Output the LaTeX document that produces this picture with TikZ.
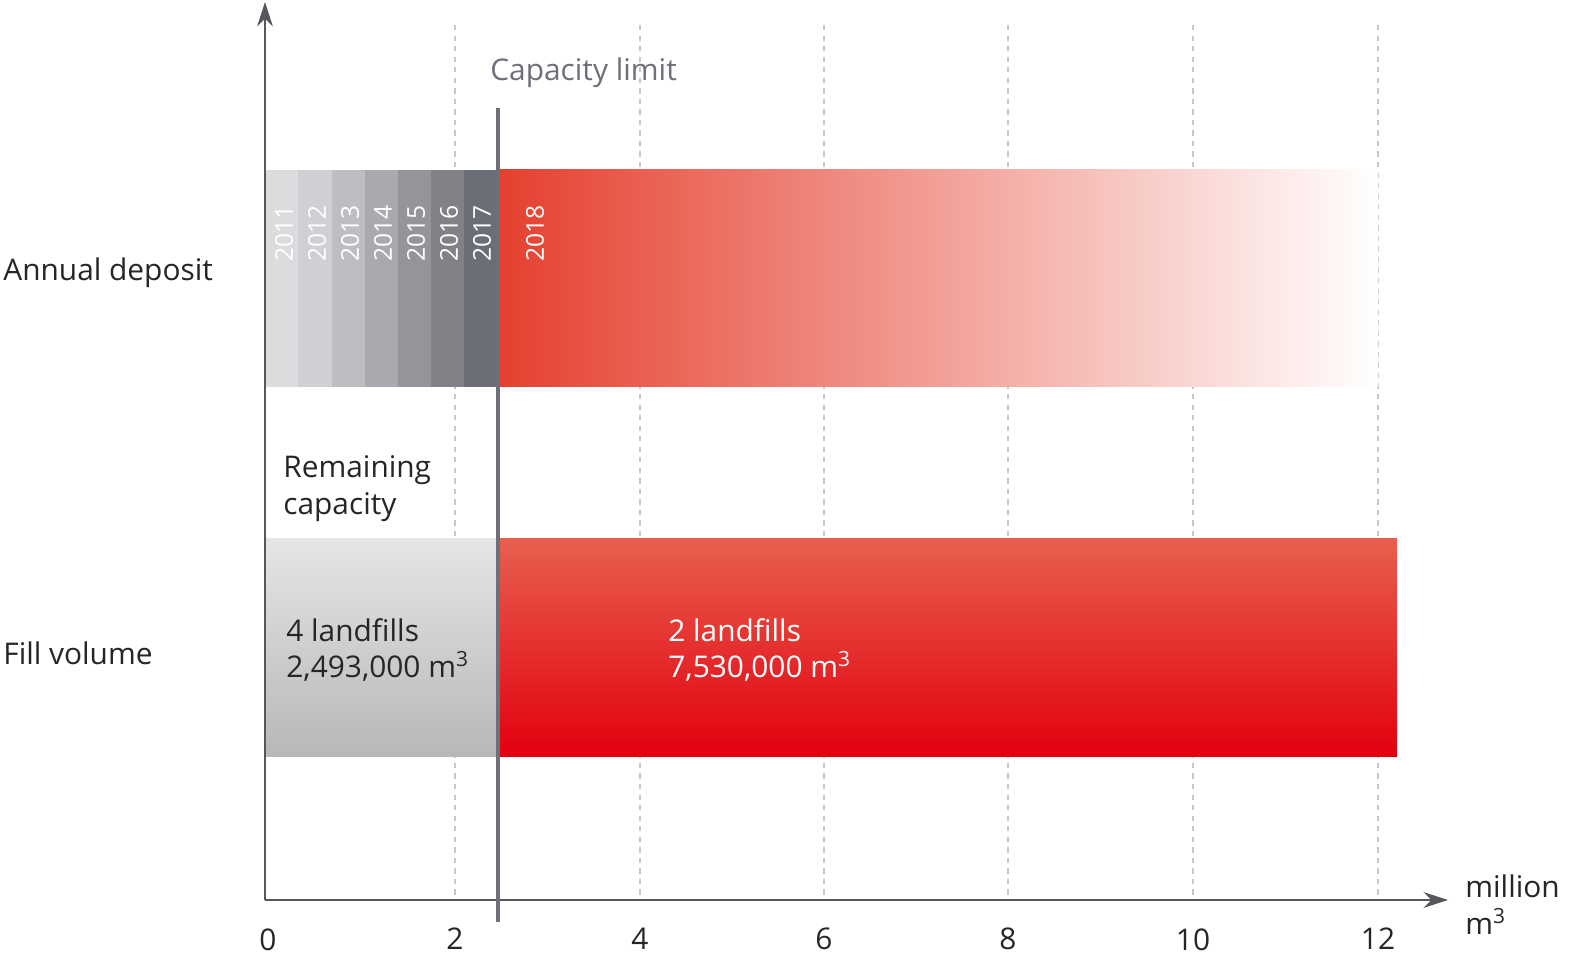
\documentclass[tikz,border=0pt]{standalone}
\usepackage{fontspec}
\setmainfont{Open Sans}
\usetikzlibrary{arrows.meta}
\definecolor{axisgray}{HTML}{55575C}
\definecolor{gridgray}{HTML}{C8C8CA}
\definecolor{limgray}{HTML}{6E7079}
\definecolor{myred}{HTML}{E2000F}
\definecolor{lightred}{HTML}{E8604F}
\definecolor{startred}{HTML}{E5402F}
\tikzset{
  lbl/.style={font=\fontsize{17}{21}\selectfont, text=black!85, inner sep=0pt},
  yearlbl/.style={font=\fontsize{14}{16}\selectfont, text=white, rotate=90, inner sep=0pt},
  grid/.style={gridgray, dashed, thick},
  axis/.style={axisgray, thick, -{Stealth[length=14pt,width=9pt]}}
}
\begin{document}
\begin{tikzpicture}[x=0.02cm,y=-0.02cm]
\useasboundingbox (0,0) rectangle (1596,976);

% grid lines
\foreach \gx in {455,640,824,1008,1193,1378}
  \draw[grid] (\gx,25) -- (\gx,900);

% annual deposit bar
\foreach \xa/\xb/\gcol in {265/298/DCDCDF,298/332/CFD0D3,332/365/BDBEC2,365/398/A9AAAF,398/431/94959B,431/464/808288,464/498/6B6E76}{
  \definecolor{segcol}{HTML}{\gcol}
  \fill[segcol] (\xa,170) rectangle (\xb,387);
}
\shade[left color=startred, middle color=lightred!65!white, right color=white] (498,170) rectangle (1378,387);
\foreach \yr [count=\i from 0] in {2011,...,2017}
  \node[yearlbl, anchor=west] (y\yr) at (284+\i*33,262) {\yr};
\node[yearlbl, anchor=west] (y2018) at (535,262) {2018};

% fill volume bar
\shade[top color=black!10, bottom color=black!28] (265,538) rectangle (498,756);
\shade[top color=lightred, bottom color=myred] (498,538) rectangle (1397,756);
\node[lbl, anchor=north west, align=left] (remain) at (283,455) {Remaining\\capacity};
\node[lbl, anchor=west, align=left] (four) at (286,650) {4 landfills\\2,493,000 m\textsuperscript{3}};
\node[lbl, anchor=west, align=left, text=white] (two) at (668,650) {2 landfills\\7,530,000 m\textsuperscript{3}};

% axes
\draw[axis] (265,900) -- (265,2);
\draw[axis] (265,900) -- (1448,900);
\foreach \tx/\tv in {268/0,455/2,640/4,824/6,1008/8,1193/10,1378/12}
  \node[lbl, anchor=north] (t\tv) at (\tx,928) {\tv};
\node[lbl, anchor=west, align=left] (unit) at (1465,905) {million\\m\textsuperscript{3}};
\node[lbl, anchor=west] (annual) at (3,273) {Annual deposit};
\node[lbl, anchor=west] (fill) at (3,653) {Fill volume};

% capacity limit
\draw[limgray, line width=2pt] (498,108) -- (498,922);
\node[lbl, anchor=west, text=limgray] (cap) at (490,73) {Capacity limit};
\end{tikzpicture}
\end{document}
